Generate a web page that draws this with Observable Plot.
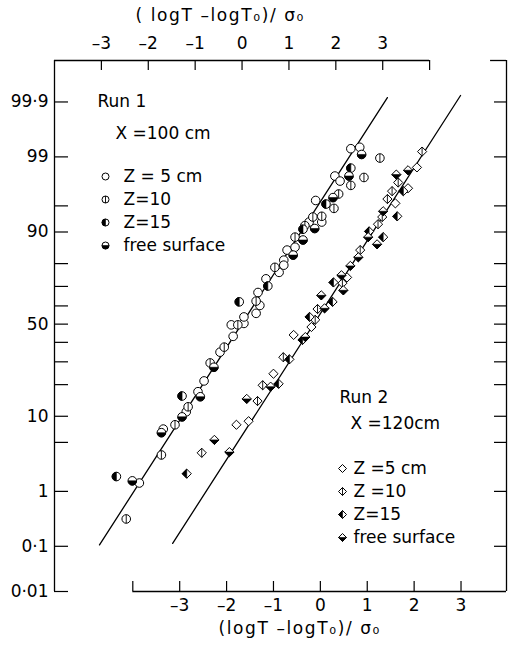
<!DOCTYPE html>
<html>
<head>
<meta charset="utf-8">
<script src="https://cdn.jsdelivr.net/npm/d3@7"></script>
<script src="https://cdn.jsdelivr.net/npm/@observablehq/plot@0.6"></script>
<style>
  html, body { margin: 0; padding: 0; background: #fff; }
  [aria-label="axis-title"], [aria-label="axis-title"] text { letter-spacing: 1.6px; }
</style>
</head>
<body>
<div id="chart"></div>
<script>
// ---------- data: [ (logT - logT0)/σ0 , normal score (probit of cumulative %) ] ----------
// Run 1 uses the top axis
const run1Z5 = [[-2.19,-2.21],[-1.68,-1.46],[-1.19,-1.22],[-0.94,-0.94],[-0.81,-0.79],[-0.47,-0.39],[-0.19,-0.17],[-0.23,-0.01],[0.04,0.01],[0.04,0.10],[0.30,0.15],[0.38,0.26],[0.34,0.44],[0.51,0.63],[0.79,0.72],[0.89,0.89],[0.89,0.82],[0.96,1.03],[1.13,1.07],[1.43,1.42],[1.70,1.42],[1.57,1.72],[1.98,2.06],[2.09,1.99],[2.32,2.44],[2.51,2.46]];
const run1Z10 = [[-2.47,-2.71],[-1.72,-1.82],[-1.43,-1.40],[-1.15,-1.15],[-0.68,-0.54],[-0.38,-0.32],[-0.09,-0.01],[0.30,0.32],[0.70,0.79],[1.13,1.21],[1.34,1.37],[1.51,1.49],[1.70,1.50],[2.06,1.81],[1.96,1.61],[2.32,1.93],[2.60,2.04],[2.94,2.31]];
const run1Z15 = [[-2.68,-2.12],[-1.28,-1.00],[-0.06,0.31],[0.55,0.53],[1.30,1.32],[1.79,1.67],[2.32,2.17]];
const run1Free = [[-2.34,-2.18],[-1.72,-1.51],[-1.28,-1.29],[-0.89,-1.01],[-0.60,-0.60],[1.09,0.96],[1.30,1.17],[1.55,1.33],[1.94,1.76],[2.28,2.06],[2.55,2.36]];
// Run 2 uses the bottom axis
const run2Z5 = [[-1.79,-1.40],[-1.53,-1.35],[-1.00,-0.69],[-0.57,-0.15],[-0.19,-0.04],[0.57,0.65],[1.60,1.68],[1.87,1.89],[2.06,2.18]];
const run2Z10 = [[-2.53,-1.79],[-1.34,-1.07],[-1.23,-0.85],[-0.79,-0.46],[-0.11,0.06],[-0.06,0.21],[0.47,0.57],[0.85,1.03],[1.23,1.39],[1.32,1.49],[1.43,1.74],[1.53,1.85],[1.66,1.97],[2.17,2.40]];
const run2Z15 = [[-2.85,-2.08],[-0.89,-0.83],[-0.66,-0.49],[-0.38,-0.22],[-0.23,0.10],[0.26,0.31],[0.28,0.58],[1.04,1.29],[1.34,1.21],[1.64,1.50],[1.77,1.85]];
const run2Free = [[-2.26,-1.61],[-1.94,-1.78],[-1.57,-1.04],[-1.06,-0.87],[-0.32,-0.18],[0.09,0.22],[0.02,0.40],[0.49,0.47],[0.45,0.68],[0.64,0.81],[0.81,0.93],[1.02,1.21],[1.21,1.11],[1.34,1.57],[1.62,2.08],[1.87,2.14]];
// fitted lines (end points)
const run1Fit = [[-3.04,-3.07],[3.10,3.15]];
const run2Fit = [[-3.15,-3.05],[2.99,3.18]];

// axes
const topTicks = [-3,-2,-1,0,1,2,3];
const topMinorTicks = [4];
const bottomTicks = [-3,-2,-1,0,1,2,3];
const yTickPercents = [0.01,0.1,1,5,10,20,30,40,50,60,70,80,90,95,99,99.9];
const yLabelPercents = [0.01,0.1,1,10,50,90,99,99.9];
const OFFSET = 1.67; // bottom-axis origin relative to top axis

const legend1 = ["Z = 5 cm","Z=10","Z=15","free surface"];
const legend2 = ["Z =5 cm","Z =10","Z=15","free surface"];

// ---------- helpers ----------
function probit(p){
  const a=[-3.969683028665376e+01,2.209460984245205e+02,-2.759285104469687e+02,1.383577518672690e+02,-3.066479806614716e+01,2.506628277459239e+00];
  const b=[-5.447609879822406e+01,1.615858368580409e+02,-1.556989798598866e+02,6.680131188771972e+01,-1.328068155288572e+01];
  const c=[-7.784894002430293e-03,-3.223964580411365e-01,-2.400758277161838e+00,-2.549732539343734e+00,4.374664141464968e+00,2.938163982698783e+00];
  const d=[7.784695709041462e-03,3.224671290700398e-01,2.445134137142996e+00,3.754408661907416e+00];
  const pl=0.02425, ph=1-pl; let q,r;
  if(p<pl){q=Math.sqrt(-2*Math.log(p));return (((((c[0]*q+c[1])*q+c[2])*q+c[3])*q+c[4])*q+c[5])/((((d[0]*q+d[1])*q+d[2])*q+d[3])*q+1);}
  if(p<=ph){q=p-0.5;r=q*q;return (((((a[0]*r+a[1])*r+a[2])*r+a[3])*r+a[4])*r+a[5])*q/(((((b[0]*r+b[1])*r+b[2])*r+b[3])*r+b[4])*r+1);}
  q=Math.sqrt(-2*Math.log(1-p));return -(((((c[0]*q+c[1])*q+c[2])*q+c[3])*q+c[4])*q+c[5])/((((d[0]*q+d[1])*q+d[2])*q+d[3])*q+1);
}
const fmtPct = p => String(p).replace(".", "·");
const fmtTick = v => v < 0 ? "–" + Math.abs(v) : String(v);

const rad = s => Math.sqrt(s/Math.PI);
const SYM = {
  circle: {draw(c,s){const r=rad(s); c.moveTo(r,0); c.arc(0,0,r,0,2*Math.PI); c.closePath();}},
  circleLeft: {draw(c,s){const r=rad(s); c.moveTo(0,-r); c.arc(0,0,r,-Math.PI/2,Math.PI/2,true); c.closePath();}},
  circleBottom: {draw(c,s){const r=rad(s); c.moveTo(r,0); c.arc(0,0,r,0,Math.PI,false); c.closePath();}},
  vbar: {draw(c,s){const r=rad(s); c.moveTo(0,-r); c.lineTo(0,r);}},
  diamond: {draw(c,s){const r=rad(s); c.moveTo(0,-r); c.lineTo(r,0); c.lineTo(0,r); c.lineTo(-r,0); c.closePath();}},
  diamondLeft: {draw(c,s){const r=rad(s); c.moveTo(0,-r); c.lineTo(-r,0); c.lineTo(0,r); c.closePath();}},
  diamondBottom: {draw(c,s){const r=rad(s); c.moveTo(-r,0); c.lineTo(r,0); c.lineTo(0,r); c.closePath();}}
};

const rows = (arr, shift=0) => arr.map(([x,z]) => ({x: x + shift, z}));

const styles1 = [
  {base: SYM.circle, over: null},
  {base: SYM.circle, over: SYM.vbar, line: true},
  {base: SYM.circle, over: SYM.circleLeft},
  {base: SYM.circle, over: SYM.circleBottom}
];
const styles2 = [
  {base: SYM.diamond, over: null},
  {base: SYM.diamond, over: SYM.vbar, line: true},
  {base: SYM.diamond, over: SYM.diamondLeft},
  {base: SYM.diamond, over: SYM.diamondBottom}
];

function seriesMarks(data, st, r, extra = {}){
  const m = [Plot.dot(data, {...extra, r, symbol: st.base, fill: "white", stroke: "black", strokeWidth: 1})];
  if (st.over) m.push(Plot.dot(data, {...extra, r, symbol: st.over,
    fill: st.line ? "none" : "black", stroke: "black", strokeWidth: st.line ? 0.9 : 0.6}));
  return m;
}

const xMin = -4, xMax = 5.64;
const yMin = probit(0.0001), yMax = 3.667;
const FS = 17;

const series1 = [run1Z5, run1Z10, run1Z15, run1Free];
const series2 = [run2Z5, run2Z10, run2Z15, run2Free];

const marks = [
  // frame
  Plot.ruleX([xMin], {stroke: "black", strokeWidth: 1.3}),
  Plot.ruleX([xMax], {stroke: "black", strokeWidth: 1.3}),
  Plot.ruleY([yMax], {x1: xMin, x2: 4, stroke: "black", strokeWidth: 1.3}),
  Plot.ruleY([yMax], {x1: 5.3, x2: xMax, stroke: "black", strokeWidth: 1.3}),
  Plot.ruleY([yMin], {x1: -4 + OFFSET, x2: xMax, stroke: "black", strokeWidth: 1.3}),
  // inward ticks
  Plot.tickX([...topTicks, ...topMinorTicks], {x: d => d, insetBottom: 521, stroke: "black", strokeWidth: 1.2}),
  Plot.tickX([-4, ...bottomTicks], {x: d => d + OFFSET, insetTop: 521, stroke: "black", strokeWidth: 1.2}),
  Plot.tickY(yTickPercents, {y: p => probit(p/100), insetRight: 438, stroke: "black", strokeWidth: 1.2}),
  Plot.tickY(yTickPercents.filter(p => p > 0.01), {y: p => probit(p/100), insetLeft: 440, stroke: "black", strokeWidth: 1.2}),
  // tick labels
  Plot.text(topTicks, {x: d => d, frameAnchor: "top", dy: -17, text: fmtTick, fontSize: FS, lineAnchor: "middle"}),
  Plot.text(bottomTicks, {x: d => d + OFFSET, frameAnchor: "bottom", dy: 14, text: fmtTick, fontSize: FS, lineAnchor: "middle"}),
  Plot.text(yLabelPercents, {y: p => probit(p/100), frameAnchor: "left", dx: -6, textAnchor: "end", text: fmtPct, fontSize: FS, lineAnchor: "middle"}),
  // axis titles
  Plot.text(["( logT –logT₀)/ σ₀"], {frameAnchor: "top-left", dx: 81, dy: -45, textAnchor: "start", text: d => d, fontSize: FS, lineAnchor: "middle", ariaLabel: "axis-title"}),
  Plot.text(["(logT –logT₀)/ σ₀"], {frameAnchor: "bottom-left", dx: 164, dy: 37, textAnchor: "start", text: d => d, fontSize: FS, lineAnchor: "middle", ariaLabel: "axis-title"}),
  // fitted lines
  Plot.line(rows(run1Fit), {x: "x", y: "z", stroke: "black", strokeWidth: 1.3}),
  Plot.line(rows(run2Fit, OFFSET), {x: "x", y: "z", stroke: "black", strokeWidth: 1.3}),
  // data points
  ...series1.flatMap((s, i) => seriesMarks(rows(s), styles1[i], 4.3, {x: "x", y: "z"})),
  ...series2.flatMap((s, i) => seriesMarks(rows(s, OFFSET), styles2[i], 4.6, {x: "x", y: "z"})),
  // Run 1 legend
  Plot.text(["Run 1"], {frameAnchor: "top-left", dx: 43, dy: 41, textAnchor: "start", text: d => d, fontSize: FS, lineAnchor: "middle"}),
  Plot.text(["X =100 cm"], {frameAnchor: "top-left", dx: 61, dy: 73, textAnchor: "start", text: d => d, fontSize: FS, lineAnchor: "middle"}),
  ...legend1.flatMap((lab, i) => [
    ...seriesMarks([lab], styles1[i], 3.5, {frameAnchor: "top-left", dx: 51, dy: 116 + 23*i}),
    Plot.text([lab], {frameAnchor: "top-left", dx: 69, dy: 116 + 23*i, textAnchor: "start", text: d => d, fontSize: FS, lineAnchor: "middle"})
  ]),
  // Run 2 legend
  Plot.text(["Run 2"], {frameAnchor: "top-left", dx: 285, dy: 337, textAnchor: "start", text: d => d, fontSize: FS, lineAnchor: "middle"}),
  Plot.text(["X =120cm"], {frameAnchor: "top-left", dx: 296, dy: 363, textAnchor: "start", text: d => d, fontSize: FS, lineAnchor: "middle"}),
  ...legend2.flatMap((lab, i) => [
    ...seriesMarks([lab], styles2[i], 4, {frameAnchor: "top-left", dx: 288, dy: 408 + 23*i}),
    Plot.text([lab], {frameAnchor: "top-left", dx: 299, dy: 408 + 23*i, textAnchor: "start", text: d => d, fontSize: FS, lineAnchor: "middle"})
  ])
];

const chart = Plot.plot({
  width: 515,
  height: 647,
  marginLeft: 54,
  marginRight: 9,
  marginTop: 60,
  marginBottom: 56,
  x: {domain: [xMin, xMax], axis: null},
  y: {domain: [yMin, yMax], axis: null},
  style: {background: "white", color: "black", fontFamily: "DejaVu Sans", fontSize: "17px"},
  marks
});
// widen the spacing of the two axis titles, as in the original typesetting
d3.select(chart).selectAll("text")
  .filter(function(){ return this.textContent.includes("logT"); })
  .style("letter-spacing", "1.6px");
document.getElementById("chart").appendChild(chart);
</script>
</body>
</html>
